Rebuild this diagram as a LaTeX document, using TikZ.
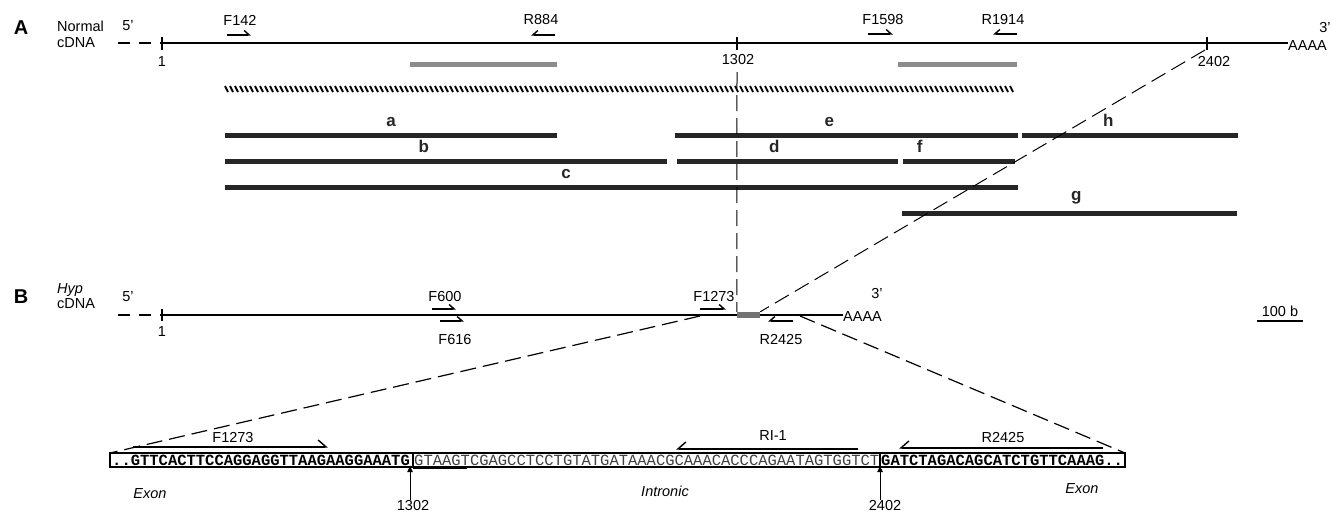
\documentclass[tikz,border=0pt]{standalone}
\usepackage{fontspec}
\setmainfont{Liberation Sans}
\newfontfamily\seqfont{Liberation Mono}
\usetikzlibrary{arrows.meta,positioning,calc}

\tikzset{
  txt/.style={font=\fontsize{14.5}{16}\selectfont,inner sep=0pt},
  pnl/.style={font=\fontsize{20}{22}\selectfont\bfseries,inner sep=0pt},
  fraglbl/.style={font=\fontsize{17}{18}\selectfont\bfseries,inner sep=0pt},
  itl/.style={font=\fontsize{14.5}{16}\selectfont\itshape,inner sep=0pt},
  cdna/.style={line width=2pt},
  tickmark/.style={line width=1.6pt},
  ext/.style={line width=1.5pt,dash pattern=on 12pt off 9pt},
  guide/.style={line width=1pt,dash pattern=on 16pt off 7pt},
  frag/.style={line width=5pt,black!85},
  probe/.style={line width=5pt,black!45},
  fwd/.style={line width=1.4pt,-{Straight Barb[harpoon,length=5pt,width=9pt]}},
  rev/.style={line width=1.4pt,-{Straight Barb[harpoon,swap,length=5pt,width=9pt]}},
  sfwd/.style={line width=1.4pt,-{Straight Barb[harpoon,length=8pt,width=14pt]}},
  srev/.style={line width=1.4pt,-{Straight Barb[harpoon,swap,length=8pt,width=14pt]}},
  seqtxt/.style={font=\seqfont\fontsize{15.5}{16}\selectfont,inner sep=0pt,anchor=west},
}

\begin{document}
\begin{tikzpicture}[x=1pt,y=-1pt]
\useasboundingbox (0,0) rectangle (1333,512);
% panel A: normal cDNA
\node[pnl] (pA) at (21,28) {A};
\node[txt,anchor=west] (nrm) at (57,26) {Normal};
\node[txt,anchor=west] (cdA) at (57,43) {cDNA};
\node[txt] (fiveA) at (128,26) {5'};
\node[txt] (threeA) at (1325,28) {3'};
\coordinate (a0) at (118,43);
\coordinate (a1) at (162,43);
\node[txt,anchor=west] (polyA) at (1288,46) {AAAA};
\draw[ext] (a0) -- (a1);
\draw[cdna] (a1) -- (polyA.west |- a1);
\foreach \x in {162,737,1207} \draw[tickmark] (\x,37) -- (\x,50);
\node[txt] (s1A) at (162,62) {1};
\node[txt] (s1302) at (738,60) {1302};
\node[txt] (s2402) at (1214,62) {2402};
% primers on A
\node[txt] (f142) at (240,20) {F142};
\draw[fwd] (227,35) -- (251,35);
\node[txt] (r884) at (541,20) {R884};
\draw[rev] (555,35) -- (531,35);
\node[txt] (f1598) at (883,20) {F1598};
\draw[fwd] (868,34) -- (893,34);
\node[txt] (r1914) at (1003,20) {R1914};
\draw[rev] (1017,34) -- (993,34);
% probes and fragments
\draw[probe] (410,64) -- (557,64);
\draw[probe] (898,64) -- (1017,64);
\foreach \x in {225,230,...,1012} \draw[line width=1.8pt] (\x,86) -- (\x+3,92);
\draw[frag] (225,135) -- (557,135) node[fraglbl,midway,above=6pt] (fa) {a};
\draw[frag] (225,161) -- (667,161) node[fraglbl,pos=0.45,above=6pt] (fb) {b};
\draw[frag] (225,187) -- (1018,187) node[fraglbl,pos=0.43,above=6pt] (fc) {c};
\draw[frag] (677,161) -- (898,161) node[fraglbl,pos=0.44,above=6pt] (fd) {d};
\draw[frag] (675,135) -- (1018,135) node[fraglbl,pos=0.45,above=6pt] (fe) {e};
\draw[frag] (903,161) -- (1015,161) node[fraglbl,pos=0.15,above=6pt] (ff) {f};
\draw[frag] (902,213) -- (1237,213) node[fraglbl,pos=0.52,above=6pt] (fg) {g};
\draw[frag] (1022,135) -- (1238,135) node[fraglbl,pos=0.4,above=6pt] (fh) {h};
% panel B: Hyp cDNA
\node[pnl] (pB) at (21,297) {B};
\node[itl,anchor=west] (hyp) at (57,290) {Hyp};
\node[txt,anchor=west] (cdB) at (57,304) {cDNA};
\node[txt] (fiveB) at (128,297) {5'};
\coordinate (b0) at (118,315);
\coordinate (b1) at (162,315);
\node[txt,anchor=west] (polyB) at (843,317) {AAAA};
\node[txt] (threeB) at (877,294) {3'};
\draw[ext] (b0) -- (b1);
\draw[cdna,line width=1.7pt] (b1) -- (polyB.west |- b1);
\draw[tickmark] (162,309) -- (162,321);
\node[txt] (s1B) at (162,332) {1};
\node[fill=black!55,minimum width=23pt,minimum height=6pt,inner sep=0pt] (junc) at (748.5,315) {};
\node[txt] (f600) at (445,297) {F600};
\draw[fwd] (432,309) -- (456,309);
\draw[fwd] (440,321) -- (464,321);
\node[txt] (f616) at (455,340) {F616};
\node[txt] (f1273b) at (714,297) {F1273};
\draw[fwd] (700,309) -- (726,309);
\draw[rev] (793,321) -- (768,321);
\node[txt] (r2425b) at (781,340) {R2425};
\node[txt] (scl) at (1280,311) {100 b};
\draw[line width=2.4pt] (1257,321) -- (1303,321);
% guides between A and B
\coordinate (g1302) at (737,72);
\coordinate (g2402) at (1205,50);
\draw[guide] (g1302) -- (junc.north west);
\draw[guide] (g2402) -- (junc.north east);
% sequence across the junction
\coordinate (jl) at (700,316);
\coordinate (jr) at (800,316);
\draw[line width=1.8pt] (110,453) rectangle (1125,467);
\coordinate (boxl) at (110,453);
\coordinate (boxr) at (1125,453);
\draw[guide,line width=1.2pt] (jl) -- (boxl);
\draw[guide,line width=1.2pt] (jr) -- (boxr);
\draw[line width=1.2pt] (413,453) -- (413,467);
\draw[line width=1.2pt] (880,453) -- (880,467);
\draw[line width=3pt] (413,467) -- (467,467);
\node[seqtxt,font=\seqfont\bfseries\fontsize{15.5}{16}\selectfont] (ex1) at (112,460.5) {..GTTCACTTCCAGGAGGTTAAGAAGGAAATG};
\node[seqtxt,text=black!75] (intr) at (414,460.5) {GTAAGTCGAGCCTCCTGTATGATAAACGCAAACACCCAGAATAGTGGTCT};
\node[seqtxt,font=\seqfont\bfseries\fontsize{15.5}{16}\selectfont] (ex2) at (881,460.5) {GATCTAGACAGCATCTGTTCAAAG..};
\node[txt] (f1273s) at (233,437) {F1273};
\draw[sfwd] (133,447) -- (328,447);
\node[txt] (ri1) at (773,436) {RI-1};
\draw[srev] (858,449) -- (676,449);
\node[txt] (r2425s) at (1003,437) {R2425};
\draw[srev] (1103,448) -- (899,448);
\node[itl] (exl) at (150,494) {Exon};
\node[itl] (intl) at (665,491) {Intronic};
\node[itl] (exr) at (1082,489) {Exon};
\node[txt] (n1302) at (413,505) {1302};
\node[txt] (n2402) at (885,505) {2402};
\draw[line width=1pt,-{Latex[length=7pt,width=6pt]}] (n1302.north -| 410,0) -- (410,465);
\draw[line width=1pt,-{Latex[length=7pt,width=6pt]}] (n2402.north -| 880,0) -- (880,465);
\end{tikzpicture}
\end{document}
